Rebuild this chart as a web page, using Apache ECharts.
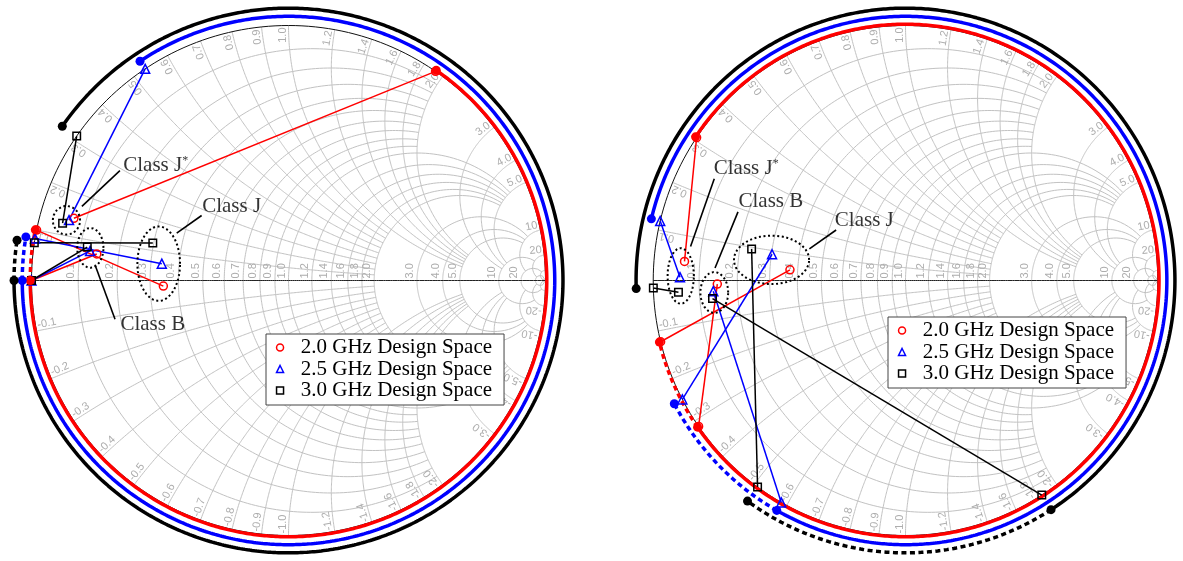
<!DOCTYPE html>
<html>
<head>
<meta charset="utf-8">
<title>Class B / J / J* design space on the Smith chart</title>
<script src="https://cdn.jsdelivr.net/npm/echarts@6/dist/echarts.min.js"></script>
<style>
  html, body { margin: 0; padding: 0; background: #ffffff; }
  #chart { width: 1183px; height: 561px; }
</style>
</head>
<body>
<div id="chart"></div>
<script>
// ---------------- data ----------------
const frequencies = ['2.0 GHz Design Space', '2.5 GHz Design Space', '3.0 GHz Design Space'];
const classNames = ['Class J*', 'Class B', 'Class J'];

// Fundamental reflection coefficients [Re, Im], one per class (J*, B, J) -- left chart
const leftFund20 = [[-0.835, 0.244], [-0.746, 0.104], [-0.487, -0.022]];
const leftFund25 = [[-0.854, 0.237], [-0.772, 0.116], [-0.493, 0.066]];
const leftFund30 = [[-0.879, 0.225], [-0.783, 0.131], [-0.528, 0.147]];
// Second-harmonic phase on the chart edge, degrees (J*, B, J) -- left chart
const leftHarm20 = [55.1, -180, -191.4];
const leftHarm25 = [123.9, -180, -189.5];
const leftHarm30 = [145.5, -180, -188.5];

// Fundamental reflection coefficients -- right chart
const rightFund20 = [[-0.876, 0.075], [-0.746, -0.014], [-0.458, 0.042]];
const rightFund25 = [[-0.894, 0.013], [-0.762, -0.042], [-0.529, 0.103]];
const rightFund30 = [[-0.900, -0.046], [-0.765, -0.071], [-0.610, 0.124]];
// Second-harmonic phase on the chart edge, degrees -- right chart
const rightHarm20 = [145.9, -145.1, -166.1];
const rightHarm25 = [166.5, -119.5, -152.2];
const rightHarm30 = [181.7, -57.3, -125.9];

// Smith grid: circle values and the orthogonal value each one stops at
const gridValues = [
  [0.1, 0.2, 0.3, 0.4, 0.5, 0.6, 0.7, 0.8, 0.9],
  [1.0, 1.2, 1.4, 1.6, 1.8, 2.0],
  [3.0, 4.0, 5.0],
  [10],
  [20],
  [50]
];
const gridLimits = [2, 5, 10, 20, 50, Infinity];
// Grid tick labels
const gridLabelValues = [0.1, 0.2, 0.3, 0.4, 0.5, 0.6, 0.7, 0.8, 0.9, 1.0, 1.2, 1.4, 1.6, 1.8, 2.0, 3.0, 4.0, 5.0, 10, 20];

// Annotation anchors in reflection-coefficient units (J*, B, J)
const leftLabelAt = [[-0.645, 0.451], [-0.656, -0.171], [-0.338, 0.290]];
const leftArrowFrom = [[-0.656, 0.431], [-0.675, -0.152], [-0.338, 0.255]];
const leftArrowTo = [[-0.804, 0.291], [-0.753, 0.062], [-0.435, 0.186]];
const leftRegion = [[-0.864, 0.236, 0.053, 0.056], [-0.771, 0.128, 0.051, 0.078], [-0.505, 0.066, 0.083, 0.146]];
const rightLabelAt = [[-0.762, 0.438], [-0.664, 0.308], [-0.282, 0.237]];
const rightArrowFrom = [[-0.758, 0.399], [-0.664, 0.269], [-0.275, 0.198]];
const rightArrowTo = [[-0.852, 0.133], [-0.755, 0.049], [-0.381, 0.124]];
const rightRegion = [[-0.891, 0.018, 0.052, 0.109], [-0.758, -0.047, 0.055, 0.080], [-0.531, 0.081, 0.149, 0.095]];

// ---------------- styling ----------------
const freqColors = ['#ff0000', '#0000ff', '#000000'];
const freqSymbols = ['circle', 'triangle', 'rect'];
const freqSymbolSize = [8, 9, 7.5];
const ringRadius = [1.005, 1.036, 1.068];
const SPAN = 1.1;
const UNIT_PX = 257;
const centers = [[288.5, 282.7], [910.7, 282.5]];
const legendAt = [[266, 334], [888, 317]];
const SERIF = "'Liberation Serif', 'Times New Roman', serif";
const SANS = "'Liberation Sans', Arial, sans-serif";

// ---------------- Smith chart geometry ----------------
function gamma(r, x) {
  const d = (r + 1) * (r + 1) + x * x;
  return [(r * r + x * x - 1) / d, 2 * x / d];
}
function resistanceCurve(r, lim) {
  const tMax = lim === Infinity ? Math.PI / 2 - 1e-5 : Math.atan(lim);
  const pts = [], n = 240;
  for (let i = 0; i <= n; i++) pts.push(gamma(r, Math.tan(-tMax + 2 * tMax * i / n)));
  return pts;
}
function reactanceCurve(x, lim) {
  const tMax = lim === Infinity ? Math.PI / 2 - 1e-5 : Math.atan(lim);
  const pts = [], n = 200;
  for (let i = 0; i <= n; i++) pts.push(gamma(Math.tan(tMax * i / n), x));
  return pts;
}
const gridCurves = [];
gridValues.forEach((vals, g) => {
  vals.forEach(v => {
    gridCurves.push({ pts: resistanceCurve(v, gridLimits[g]), color: '#c2c2c2', width: 1 });
    gridCurves.push({ pts: reactanceCurve(v, gridLimits[g]), color: '#c2c2c2', width: 1 });
    gridCurves.push({ pts: reactanceCurve(-v, gridLimits[g]), color: '#c2c2c2', width: 1 });
  });
});
gridCurves.push({ pts: reactanceCurve(0, Infinity), color: '#222222', width: 1 });
gridCurves.push({ pts: resistanceCurve(0, Infinity), color: '#111111', width: 1 });

function fmt(v) { return v < 10 ? v.toFixed(1) : String(v); }
const gridLabels = [];
gridLabelValues.forEach(v => {
  gridLabels.push({ p: [(v - 1) / (v + 1), 0], text: fmt(v), rot: Math.PI / 2, align: 'left', dx: -1.5, dy: -2 });
  const phi = Math.PI - 2 * Math.atan(v);
  gridLabels.push({ p: [Math.cos(phi), Math.sin(phi)], text: fmt(v), rot: phi, align: 'right',
    dx: -2 * Math.cos(phi), dy: 2 * Math.sin(phi) });
  gridLabels.push({ p: [Math.cos(-phi), Math.sin(-phi)], text: '-' + fmt(v), rot: Math.PI - phi, align: 'left',
    dx: -2 * Math.cos(-phi), dy: 2 * Math.sin(-phi) });
});

function arcPoints(radius, a0, a1) {
  const n = Math.max(2, Math.ceil(Math.abs(a1 - a0)) * 2 + 1);
  const pts = [];
  for (let i = 0; i < n; i++) {
    const a = (a0 + (a1 - a0) * i / (n - 1)) * Math.PI / 180;
    pts.push([radius * Math.cos(a), radius * Math.sin(a)]);
  }
  return pts;
}
function onCircle(radius, deg) {
  const a = deg * Math.PI / 180;
  return [radius * Math.cos(a), radius * Math.sin(a)];
}
function ellipsePoints(e) {
  const pts = [];
  for (let i = 0; i <= 120; i++) {
    const t = 2 * Math.PI * i / 120;
    pts.push([e[0] + e[2] * Math.cos(t), e[1] + e[3] * Math.sin(t)]);
  }
  return pts;
}

// ---------------- series per chart ----------------
function buildSeries(ci, fundSets, harmSets, labelAt, arrowFrom, arrowTo, regions) {
  const ax = { xAxisIndex: ci, yAxisIndex: ci };
  const list = [];
  list.push(Object.assign({
    type: 'custom', silent: true, clip: false, z: 1,
    data: gridCurves.map(c => c.pts[0]),
    renderItem: (params, api) => {
      const c = gridCurves[params.dataIndex];
      return { type: 'polyline', silent: true,
        shape: { points: c.pts.map(p => api.coord(p)) },
        style: { stroke: c.color, lineWidth: c.width, fill: null } };
    }
  }, ax));
  list.push(Object.assign({
    type: 'custom', silent: true, clip: false, z: 2,
    data: gridLabels.map(l => l.p),
    renderItem: (params, api) => {
      const l = gridLabels[params.dataIndex];
      const pt = api.coord(l.p);
      return { type: 'text', silent: true, x: pt[0] + l.dx, y: pt[1] + l.dy, rotation: l.rot,
        style: { text: l.text, fill: '#adadad', fontSize: 11, fontFamily: SANS,
          align: l.align, verticalAlign: 'bottom' } };
    }
  }, ax));

  fundSets.forEach((fund, f) => {
    const harm = harmSets[f];
    const col = freqColors[f];
    // harmonic design-space arcs
    list.push(Object.assign({ type: 'line', silent: true, symbol: 'none', z: 3,
      data: arcPoints(ringRadius[f], harm[0], harm[1]),
      lineStyle: { color: col, width: 3.5 } }, ax));
    list.push(Object.assign({ type: 'line', silent: true, symbol: 'none', z: 3,
      data: arcPoints(ringRadius[f], harm[1], harm[2]),
      lineStyle: { color: col, width: 3.5, type: [5, 3.5] } }, ax));
    // fundamental to second-harmonic links
    fund.forEach((p, k) => {
      list.push(Object.assign({ type: 'line', silent: true, symbol: 'none', z: 4,
        data: [p, onCircle(1, harm[k])],
        lineStyle: { color: col, width: 1.5 } }, ax));
    });
    // impedance markers
    list.push(Object.assign({ type: 'scatter', name: frequencies[f], silent: true, z: 6,
      symbol: freqSymbols[f], symbolSize: freqSymbolSize[f],
      itemStyle: { color: 'rgba(0,0,0,0)', borderColor: col, borderWidth: 1.5, opacity: 1 },
      data: fund.concat(harm.map(a => onCircle(1, a))) }, ax));
    // arc end points
    list.push(Object.assign({ type: 'scatter', silent: true, z: 7,
      symbol: 'circle', symbolSize: 9, itemStyle: { color: col, opacity: 1 },
      data: harm.map(a => onCircle(ringRadius[f], a)) }, ax));
  });

  // dotted class regions
  regions.forEach(e => {
    list.push(Object.assign({ type: 'line', silent: true, symbol: 'none', z: 5,
      data: ellipsePoints(e),
      lineStyle: { color: '#000', width: 2, type: [2, 2.6] } }, ax));
  });
  // pointer arrows
  list.push(Object.assign({ type: 'line', silent: true, symbol: 'none', z: 5,
    data: arrowFrom, lineStyle: { opacity: 0 },
    markLine: { silent: true, animation: false, symbol: ['none', 'arrow'], symbolSize: [0, 10],
      label: { show: false }, emphasis: { disabled: true },
      lineStyle: { color: '#000', width: 1.6, type: 'solid' },
      data: arrowFrom.map((a, k) => [{ coord: a }, { coord: arrowTo[k] }]) } }, ax));
  // class labels
  list.push(Object.assign({ type: 'scatter', silent: true, z: 8,
    symbolSize: 1, itemStyle: { color: 'rgba(0,0,0,0)' },
    data: labelAt.map((p, k) => ({ value: p, name: classNames[k] })),
    label: { show: true, position: 'right', distance: 0,
      fontFamily: SERIF, fontSize: 21, color: '#000',
      formatter: p => p.name.replace('*', '{sup|*}'),
      rich: { sup: { fontFamily: SERIF, fontSize: 12, verticalAlign: 'top', lineHeight: 12, color: '#000' } } } }, ax));
  return list;
}

const series = []
  .concat(buildSeries(0, [leftFund20, leftFund25, leftFund30], [leftHarm20, leftHarm25, leftHarm30],
    leftLabelAt, leftArrowFrom, leftArrowTo, leftRegion))
  .concat(buildSeries(1, [rightFund20, rightFund25, rightFund30], [rightHarm20, rightHarm25, rightHarm30],
    rightLabelAt, rightArrowFrom, rightArrowTo, rightRegion));

const side = 2 * SPAN * UNIT_PX;
const option = {
  animation: false,
  backgroundColor: '#ffffff',
  grid: centers.map(c => ({ left: c[0] - SPAN * UNIT_PX, top: c[1] - SPAN * UNIT_PX, width: side, height: side })),
  xAxis: [0, 1].map(i => ({ gridIndex: i, type: 'value', min: -SPAN, max: SPAN, show: false })),
  yAxis: [0, 1].map(i => ({ gridIndex: i, type: 'value', min: -SPAN, max: SPAN, show: false })),
  legend: legendAt.map(pos => ({
    orient: 'vertical', left: pos[0], top: pos[1],
    padding: [3, 12, 4, 9.8], itemWidth: 7, itemHeight: 7, itemGap: 0.5,
    backgroundColor: '#ffffff', borderColor: '#444444', borderWidth: 1,
    selectedMode: false, z: 20,
    textStyle: { fontFamily: SERIF, fontSize: 21, color: '#000', lineHeight: 20,
      rich: { s: { width: 12.2, lineHeight: 20 } } },
    formatter: name => '{s|}' + name,
    data: frequencies.map((name, f) => ({ name: name, icon: freqSymbols[f],
      itemStyle: { color: 'rgba(0,0,0,0)', borderColor: freqColors[f], borderWidth: 1.5 } }))
  })),
  series: series
};

const chart = echarts.init(document.getElementById('chart'), null, { renderer: 'canvas' });
chart.setOption(option);
</script>
</body>
</html>
